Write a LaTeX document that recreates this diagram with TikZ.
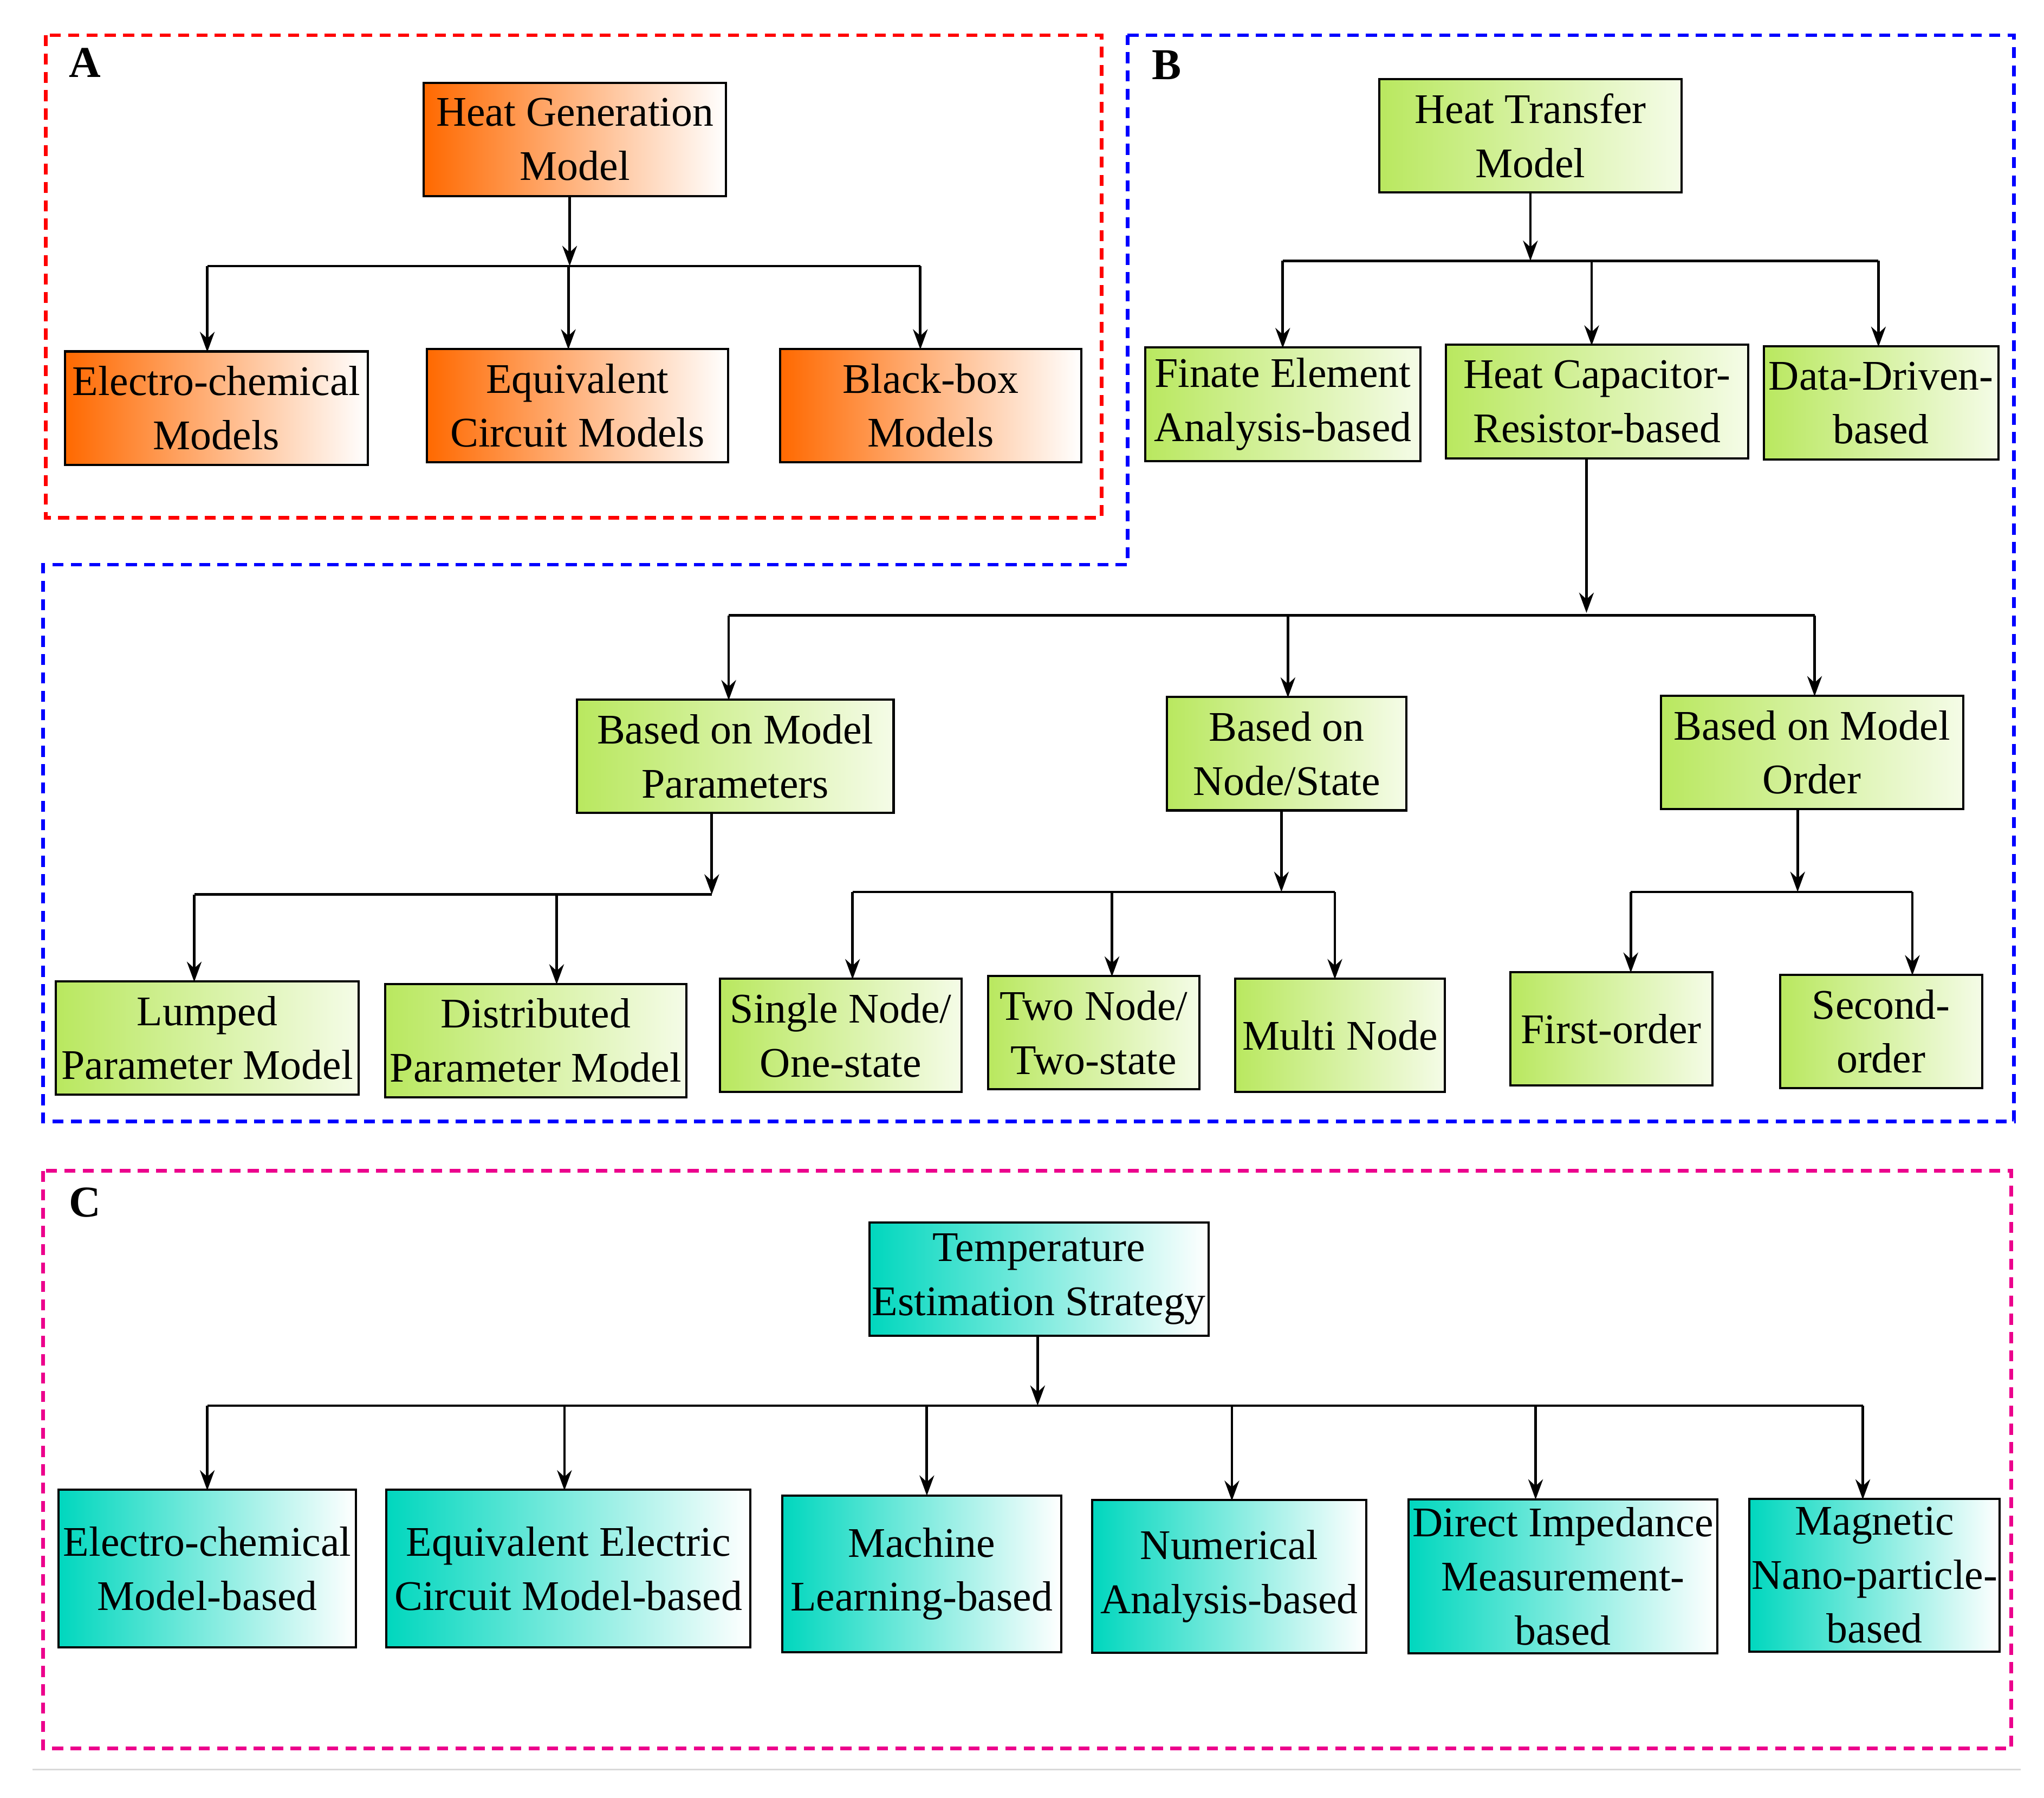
\documentclass[tikz,border=0pt]{standalone}
\usepackage{fontspec}
\setmainfont{Liberation Serif}
\usetikzlibrary{arrows.meta}
\definecolor{orng}{RGB}{255,105,0}
\definecolor{grn}{RGB}{185,232,95}
\definecolor{cyn}{RGB}{0,215,190}
\begin{document}
\begin{tikzpicture}[x=0.025cm,y=-0.025cm,
  bx/.style={draw=black,line width=1.2pt,align=center,inner sep=1pt,font=\fontsize{23}{29.5}\selectfont},
  A/.style={bx,left color=orng,right color=white},
  B/.style={bx,left color=grn,right color=grn!15},
  C/.style={bx,left color=cyn,right color=white},
  ln/.style={line width=1.4pt},
  ar/.style={ln,-{Stealth[length=11pt,width=8pt]}},
  fr/.style={line width=2pt,dash pattern=on 6pt off 4pt},
  lab/.style={font=\fontsize{24}{28}\selectfont\bfseries}]
\useasboundingbox (0,0) rectangle (1568,1378.5);
\newcommand\bx[7]{\node[#6,minimum width={#4*0.025cm},minimum height={#5*0.025cm}] (#1) at (#2,#3) {#7};}
% frames
\draw[fr,red] (35,27) rectangle (845,397);
\draw[fr,blue] (865,27) -- (1545,27) -- (1545,860) -- (33,860) -- (33,433) -- (865,433) -- cycle;
\draw[fr,magenta] (33,898) rectangle (1543,1341);
\draw[gray!30,line width=1pt] (25,1357) -- (1550,1357);
\node[lab] (la) at (65,48) {A};
\node[lab] (lb) at (895,50) {B};
\node[lab] (lc) at (65,922) {C};
% A
\bx{hg}{441}{107}{232}{87}{A}{Heat Generation\\Model}
\bx{a1}{166}{313}{232}{87}{A}{Electro-chemical\\Models}
\bx{a2}{443}{311}{231}{87}{A}{Equivalent\\Circuit Models}
\bx{a3}{714}{311}{231}{87}{A}{Black-box\\Models}
\coordinate (ja) at (437,204);
\draw[ar] (hg.south -| ja) -- (ja);
\draw[ln] (159,204) -- (706,204);
\draw[ar] (159,204) -- (159,270);
\draw[ar] (436,204) -- (436,268);
\draw[ar] (706,204) -- (706,268);
% B
\bx{ht}{1174}{104}{232}{87}{B}{Heat Transfer\\Model}
\bx{b1}{984}{310}{211}{87}{B}{Finate Element\\Analysis-based}
\bx{b2}{1225}{308}{232}{87}{B}{Heat Capacitor-\\Resistor-based}
\bx{b3}{1443}{309}{180}{87}{B}{Data-Driven-\\based}
\coordinate (jb) at (1174,200);
\draw[ar] (ht.south -| jb) -- (jb);
\draw[ln] (984,200) -- (1441,200);
\draw[ar] (984,200) -- (984,267);
\draw[ar] (1221,200) -- (1221,265);
\draw[ar] (1441,200) -- (1441,266);
\bx{p1}{564}{580}{243}{87}{B}{Based on Model\\Parameters}
\bx{p2}{987}{578}{184}{87}{B}{Based on\\Node/State}
\bx{p3}{1390}{577}{232}{87}{B}{Based on Model\\Order}
\coordinate (jc) at (1217,470);
\draw[ar] (b2.south -| jc) -- (jc);
\draw[ln] (559,472) -- (1392,472);
\draw[ar] (559,472) -- (559,537);
\draw[ar] (988,472) -- (988,535);
\draw[ar] (1392,472) -- (1392,534);
\bx{q1}{159}{796}{232}{87}{B}{Lumped\\Parameter Model}
\bx{q2}{411}{798}{231}{87}{B}{Distributed\\Parameter Model}
\coordinate (jd) at (546,686);
\draw[ar] (p1.south -| jd) -- (jd);
\draw[ln] (149,686) -- (546,686);
\draw[ar] (149,686) -- (149,753);
\draw[ar] (427,686) -- (427,755);
\bx{r1}{645}{794}{185}{87}{B}{Single Node/\\One-state}
\bx{r2}{839}{792}{162}{87}{B}{Two Node/\\Two-state}
\bx{r3}{1028}{794}{161}{87}{B}{Multi Node}
\coordinate (je) at (983,684);
\draw[ar] (p2.south -| je) -- (je);
\draw[ln] (654,684) -- (1024,684);
\draw[ar] (654,684) -- (654,751);
\draw[ar] (853,684) -- (853,749);
\draw[ar] (1024,684) -- (1024,751);
\bx{s1}{1236}{789}{155}{87}{B}{First-order}
\bx{s2}{1443}{791}{155}{87}{B}{Second-\\order}
\coordinate (jf) at (1379,684);
\draw[ar] (p3.south -| jf) -- (jf);
\draw[ln] (1251,684) -- (1467,684);
\draw[ar] (1251,684) -- (1251,746);
\draw[ar] (1467,684) -- (1467,748);
% C
\bx{te}{797}{981}{260}{87}{C}{Temperature\\Estimation Strategy}
\bx{c1}{159}{1203}{228}{121}{C}{Electro-chemical\\Model-based}
\bx{c2}{436}{1203}{279}{121}{C}{Equivalent Electric\\Circuit Model-based}
\bx{c3}{707}{1207}{214}{120}{C}{Machine\\Learning-based}
\bx{c4}{943}{1209}{210}{117}{C}{Numerical\\Analysis-based}
\bx{c5}{1199}{1209}{237}{118}{C}{Direct Impedance\\Measurement-\\based}
\bx{c6}{1438}{1208}{192}{117}{C}{Magnetic\\Nano-particle-\\based}
\coordinate (jg) at (796,1078);
\draw[ar] (te.south -| jg) -- (jg);
\draw[ln] (159,1078) -- (1429,1078);
\draw[ar] (159,1078) -- (159,1143);
\draw[ar] (433,1078) -- (433,1143);
\draw[ar] (711,1078) -- (711,1147);
\draw[ar] (945,1078) -- (945,1151);
\draw[ar] (1178,1078) -- (1178,1150);
\draw[ar] (1429,1078) -- (1429,1150);
\end{tikzpicture}
\end{document}
